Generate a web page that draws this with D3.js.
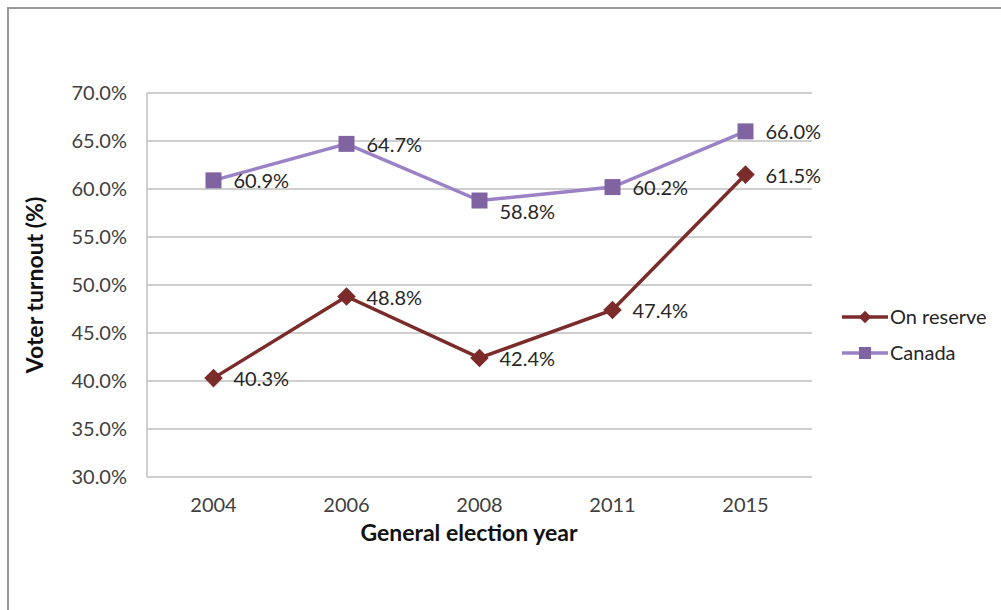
<!DOCTYPE html>
<html>
<head>
<meta charset="utf-8">
<script src="https://cdn.jsdelivr.net/npm/d3@7"></script>
<style>
  body { margin: 0; background: #fff; }
  text { font-family: Lato, "Open Sans", sans-serif; }
</style>
</head>
<body>
<svg width="1001" height="610"></svg>
<script>
// chart data
var years = ["2004", "2006", "2008", "2011", "2015"],
    onReserve = [40.3, 48.8, 42.4, 47.4, 61.5],
    canada = [60.9, 64.7, 58.8, 60.2, 66.0],
    yTicks = [30, 35, 40, 45, 50, 55, 60, 65, 70],
    seriesNames = ["On reserve", "Canada"];

var svg = d3.select("svg"),
    margin = {left: 147, right: 189, top: 93, bottom: 133},
    W = 1001, H = 610,
    RED = "#7b2c2a",
    PURPLE = "#8064a2",
    PURPLE_LINE = "#9b82c6",
    GRID = "#bfbfbf";

// outer chart border
svg.append("rect")
    .attr("x", 8).attr("y", 8)
    .attr("width", W + 10).attr("height", H + 10)
    .attr("fill", "none")
    .attr("stroke", "#9a9a9a")
    .attr("stroke-width", 2);

var x = d3.scaleBand().domain(years).range([margin.left, W - margin.right]),
    y = d3.scaleLinear().domain([30, 70]).range([H - margin.bottom, margin.top]);

// gridlines
svg.append("g").selectAll("line")
  .data(yTicks)
  .join("line")
    .attr("x1", margin.left).attr("x2", W - margin.right)
    .attr("y1", d => y(d)).attr("y2", d => y(d))
    .attr("stroke", GRID).attr("stroke-width", 1.5);

// y axis line
svg.append("line")
    .attr("x1", margin.left).attr("x2", margin.left)
    .attr("y1", y(70)).attr("y2", y(30))
    .attr("stroke", GRID).attr("stroke-width", 1.5);

// y tick labels
var yAxis = svg.append("g")
    .attr("transform", "translate(" + (margin.left - 20) + ",0)")
    .call(d3.axisLeft(y).tickValues(yTicks).tickSize(0).tickFormat(d => d3.format(".1f")(d) + "%"));
yAxis.select(".domain").remove();
yAxis.selectAll("text")
    .attr("x", 0)
    .style("font-size", "20px")
    .attr("fill", "#404040")
    .style("font-family", "Lato, sans-serif");

// x tick labels
var xAxis = svg.append("g")
    .attr("transform", "translate(0," + (H - margin.bottom) + ")")
    .call(d3.axisBottom(x).tickSize(0));
xAxis.select(".domain").remove();
xAxis.selectAll("text")
    .attr("y", 21)
    .style("font-size", "20px")
    .attr("fill", "#404040")
    .style("font-family", "Lato, sans-serif");

// axis titles
svg.append("text")
    .attr("transform", "translate(43,285) rotate(-90)")
    .attr("text-anchor", "middle")
    .style("font-size", "23px")
    .style("font-weight", "bold")
    .attr("fill", "#111")
    .text("Voter turnout (%)");

svg.append("text")
    .attr("x", 469).attr("y", 541)
    .attr("text-anchor", "middle")
    .style("font-size", "23px")
    .style("font-weight", "bold")
    .attr("fill", "#111")
    .text("General election year");

var line = d3.line()
    .x((d, i) => x(years[i]) + x.bandwidth() / 2)
    .y(d => y(d));

var cx = i => x(years[i]) + x.bandwidth() / 2;

// Canada series
svg.append("path")
    .datum(canada)
    .attr("d", line)
    .attr("fill", "none")
    .attr("stroke", PURPLE_LINE)
    .attr("stroke-width", 3.5);

svg.append("g").selectAll("rect")
  .data(canada)
  .join("rect")
    .attr("x", (d, i) => cx(i) - 8)
    .attr("y", d => y(d) - 8)
    .attr("width", 16).attr("height", 16)
    .attr("fill", PURPLE);

// On reserve series
svg.append("path")
    .datum(onReserve)
    .attr("d", line)
    .attr("fill", "none")
    .attr("stroke", RED)
    .attr("stroke-width", 3.5);

var diamond = d3.symbol().type(d3.symbolDiamond2).size(220);
svg.append("g").selectAll("path")
  .data(onReserve)
  .join("path")
    .attr("d", diamond)
    .attr("transform", (d, i) => "translate(" + cx(i) + "," + y(d) + ")")
    .attr("fill", RED);

// data labels
function addLabels(vals) {
  svg.append("g").selectAll("text")
    .data(vals)
    .join("text")
      .attr("x", (d, i) => cx(i) + 20)
      // 2008 Canada label sits below the point
      .attr("y", (d, i) => y(d) + (vals === canada && i === 2 ? 18 : 8))
      .style("font-size", "20px")
      .attr("fill", "#262626")
      .text(d => d.toFixed(1) + "%");
}
addLabels(canada);
addLabels(onReserve);

// legend
var legend = svg.append("g");
[RED, PURPLE].forEach(function(c, i) {
  var ly = 317 + i * 36;
  legend.append("line")
      .attr("x1", 842).attr("x2", 888)
      .attr("y1", ly).attr("y2", ly)
      .attr("stroke", i === 0 ? RED : PURPLE_LINE)
      .attr("stroke-width", 3.5);
  if (i === 0) {
    legend.append("path")
        .attr("d", d3.symbol().type(d3.symbolDiamond2).size(100))
        .attr("transform", "translate(865," + ly + ")")
        .attr("fill", RED);
  } else {
    legend.append("rect")
        .attr("x", 859).attr("y", ly - 6)
        .attr("width", 12).attr("height", 12)
        .attr("fill", PURPLE);
  }
  legend.append("text")
      .attr("x", 890).attr("y", ly + 7)
      .style("font-size", "20px")
      .attr("fill", "#262626")
      .text(seriesNames[i]);
});
</script>
</body>
</html>
